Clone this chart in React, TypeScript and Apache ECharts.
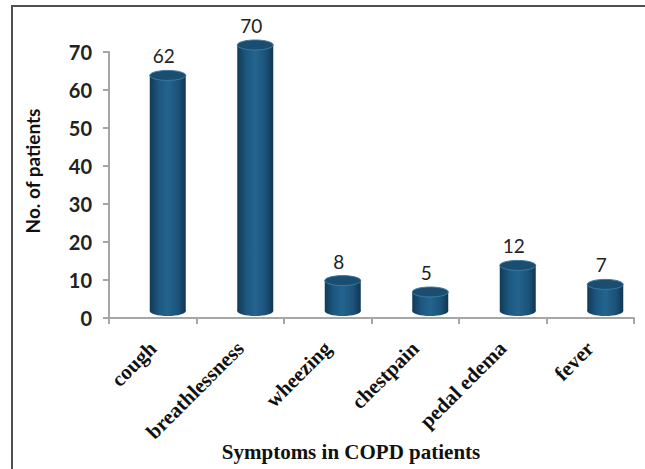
import React, { useEffect, useRef } from "react";
import * as echarts from "echarts";

const categories = ["cough", "breathlessness", "wheezing", "chestpain", "pedal edema", "fever"];
const patients = [62, 70, 8, 5, 12, 7];
const yTicks = [0, 10, 20, 30, 40, 50, 60, 70];

export default function App() {
  const ref = useRef<HTMLDivElement>(null);
  useEffect(() => {
    if (!ref.current) return;
    const chart = echarts.init(ref.current, undefined, { renderer: "svg" });
    const bodyFill = {
      type: "linear", x: 0, y: 0, x2: 1, y2: 0,
      colorStops: [
        { offset: 0, color: "#123a56" },
        { offset: 0.25, color: "#1c5780" },
        { offset: 0.5, color: "#23648f" },
        { offset: 0.8, color: "#1b5278" },
        { offset: 1, color: "#113550" },
      ],
    };
    chart.setOption({
      animation: false,
      backgroundColor: "#ffffff",
      grid: { left: 109, right: 11, top: 52, bottom: 151, containLabel: false },
      xAxis: {
        type: "category",
        data: categories,
        axisLine: { lineStyle: { color: "#a6a6a6", width: 2 } },
        axisTick: { show: true, length: 6, lineStyle: { color: "#a6a6a6", width: 2 } },
        axisLabel: {
          rotate: 45,
          margin: 27,
          interval: 0,
          fontFamily: "Liberation Serif",
          fontWeight: "bold",
          fontSize: 21,
          color: "#111111",
        },
      },
      yAxis: {
        type: "value",
        min: yTicks[0],
        max: yTicks[yTicks.length - 1],
        interval: 10,
        splitLine: { show: false },
        axisLine: { show: true, lineStyle: { color: "#a6a6a6", width: 2 } },
        axisTick: { show: true, length: 6, lineStyle: { color: "#a6a6a6", width: 2 } },
        axisLabel: {
          margin: 17,
          fontFamily: "Lato",
          fontWeight: "bold",
          fontSize: 20,
          color: "#222222",
        },
      },
      series: [
        {
          type: "custom",
          data: patients.map((v, i) => [i, v]),
          renderItem: (params: any, api: any) => {
            const idx = api.value(0);
            const v = api.value(1);
            const top = api.coord([idx, v]);
            const base = api.coord([idx, 0]);
            const rx = 18, ry = 5, dx = 15, dy = -7;
            const cx = top[0] + dx;
            const yT = top[1] + dy;
            const yB = base[1] + dy;
            return {
              type: "group",
              children: [
                { type: "ellipse", shape: { cx, cy: yB, rx, ry }, style: { fill: bodyFill } },
                { type: "rect", shape: { x: cx - rx, y: yT, width: rx * 2, height: yB - yT }, style: { fill: bodyFill } },
                { type: "ellipse", shape: { cx, cy: yT, rx, ry }, style: { fill: "#1b4d71", stroke: "#3b7aa3", lineWidth: 1 } },
                {
                  type: "text",
                  style: {
                    text: String(v),
                    x: cx - 4,
                    y: yT - ry - 5,
                    align: "center",
                    verticalAlign: "bottom",
                    fontFamily: "Lato",
                    fontSize: 19,
                    fill: "#222222",
                  },
                },
              ],
            };
          },
        },
      ],
      graphic: [
        {
          type: "rect",
          shape: { x: 12, y: 6, width: 700, height: 600 },
          style: { fill: "none", stroke: "#505050", lineWidth: 2 },
          silent: true,
        },
        {
          type: "text",
          x: 32,
          y: 171,
          rotation: Math.PI / 2,
          style: {
            text: "No. of patients",
            align: "center",
            verticalAlign: "middle",
            fontFamily: "Lato",
            fontWeight: "bold",
            fontSize: 19,
            fill: "#111111",
          },
        },
        {
          type: "text",
          x: 351,
          y: 452,
          style: {
            text: "Symptoms in COPD patients",
            align: "center",
            verticalAlign: "middle",
            fontFamily: "Liberation Serif",
            fontWeight: "bold",
            fontSize: 21,
            fill: "#111111",
          },
        },
      ],
    });
    return () => chart.dispose();
  }, []);
  return <div ref={ref} style={{ position: "fixed", left: 0, top: 0, width: 645, height: 469 }} />;
}
